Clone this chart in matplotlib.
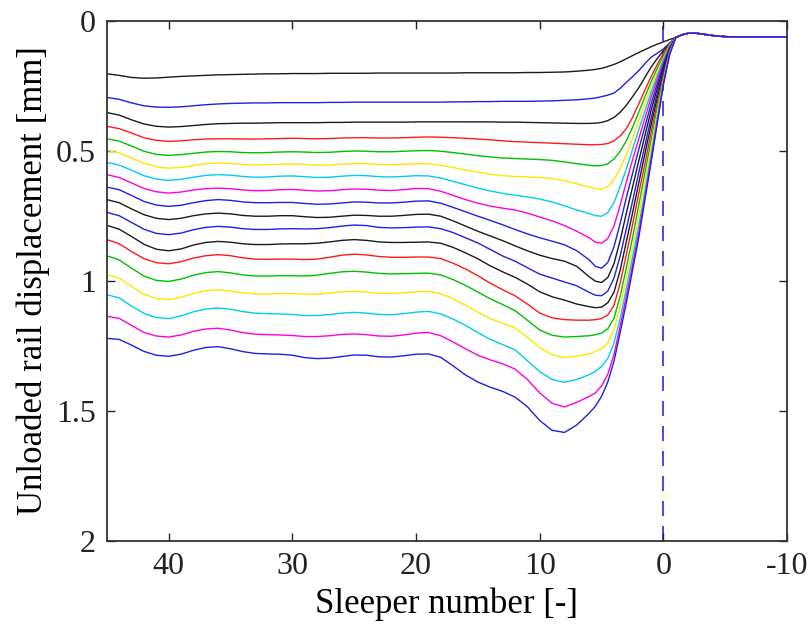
import matplotlib
matplotlib.use('Agg')
import matplotlib.pyplot as plt

# sleeper positions (shared by every curve)
x_main = [45, 44, 43, 42, 41, 40, 39, 38, 37, 36, 35, 34, 33, 32, 31, 30, 29, 28, 27, 26,
          25, 24, 23, 22, 21, 20, 19, 18, 17, 16, 15, 14, 13, 12, 11, 10, 9, 8, 7]
x_rise = [6, 5.5, 5, 4.5, 4, 3.5, 3, 2.5, 2, 1.5, 1, 0.5, 0, -0.5]
x_tail = [-1, -1.5, -2, -2.5, -3, -4, -5, -6, -10]
# every curve ends on the same values past the loaded sleeper
tail = [0.064, 0.054, 0.048, 0.047, 0.050, 0.057, 0.061, 0.062, 0.062]

# unloaded rail displacement [mm], values on x_main then x_rise
u01 = [0.204, 0.210, 0.218, 0.221, 0.220, 0.217, 0.214, 0.212, 0.210, 0.208,
       0.207, 0.206, 0.205, 0.204, 0.204, 0.203, 0.203, 0.203, 0.202, 0.202,
       0.202, 0.202, 0.201, 0.201, 0.201, 0.201, 0.201, 0.201, 0.201, 0.200,
       0.200, 0.200, 0.200, 0.200, 0.199, 0.199, 0.198, 0.197, 0.194,
       0.190, 0.187, 0.183, 0.176, 0.168, 0.158, 0.146, 0.134, 0.122, 0.111, 0.100, 0.090, 0.081, 0.072]
u02 = [0.295, 0.302, 0.316, 0.327, 0.332, 0.333, 0.331, 0.327, 0.323, 0.320,
       0.318, 0.317, 0.316, 0.316, 0.315, 0.315, 0.315, 0.315, 0.314, 0.314,
       0.313, 0.313, 0.313, 0.313, 0.313, 0.313, 0.313, 0.313, 0.312, 0.312,
       0.311, 0.311, 0.310, 0.310, 0.310, 0.309, 0.308, 0.306, 0.304,
       0.300, 0.297, 0.292, 0.286, 0.278, 0.260, 0.237, 0.215, 0.192, 0.165, 0.140, 0.125, 0.108, 0.086]
u03 = [0.353, 0.363, 0.381, 0.397, 0.406, 0.409, 0.407, 0.403, 0.399, 0.396,
       0.395, 0.394, 0.394, 0.393, 0.392, 0.392, 0.392, 0.392, 0.391, 0.391,
       0.390, 0.390, 0.390, 0.390, 0.390, 0.389, 0.389, 0.389, 0.389, 0.389,
       0.389, 0.389, 0.390, 0.390, 0.391, 0.392, 0.393, 0.394, 0.395,
       0.395, 0.394, 0.391, 0.384, 0.372, 0.352, 0.325, 0.292, 0.258, 0.218, 0.178, 0.145, 0.115, 0.088]
u04 = [0.406, 0.415, 0.432, 0.450, 0.460, 0.464, 0.462, 0.458, 0.455, 0.454,
       0.454, 0.455, 0.455, 0.454, 0.453, 0.452, 0.453, 0.454, 0.453, 0.451,
       0.450, 0.450, 0.451, 0.451, 0.450, 0.448, 0.447, 0.448, 0.450, 0.452,
       0.455, 0.458, 0.462, 0.465, 0.467, 0.469, 0.471, 0.473, 0.475,
       0.477, 0.477, 0.476, 0.472, 0.462, 0.443, 0.415, 0.372, 0.320, 0.267, 0.215, 0.168, 0.125, 0.090]
u05 = [0.454, 0.463, 0.482, 0.502, 0.514, 0.518, 0.515, 0.510, 0.505, 0.503,
       0.504, 0.507, 0.508, 0.507, 0.505, 0.504, 0.505, 0.507, 0.506, 0.503,
       0.501, 0.502, 0.504, 0.504, 0.502, 0.500, 0.499, 0.502, 0.507, 0.513,
       0.519, 0.524, 0.528, 0.530, 0.532, 0.534, 0.537, 0.543, 0.550,
       0.556, 0.558, 0.557, 0.550, 0.532, 0.502, 0.462, 0.410, 0.352, 0.292, 0.235, 0.183, 0.135, 0.092]
u06 = [0.499, 0.508, 0.528, 0.548, 0.562, 0.567, 0.564, 0.557, 0.550, 0.547,
       0.549, 0.553, 0.555, 0.554, 0.552, 0.551, 0.553, 0.556, 0.555, 0.552,
       0.549, 0.550, 0.553, 0.554, 0.552, 0.550, 0.550, 0.556, 0.565, 0.574,
       0.582, 0.590, 0.596, 0.599, 0.601, 0.603, 0.607, 0.615, 0.627,
       0.640, 0.646, 0.648, 0.638, 0.612, 0.568, 0.515, 0.452, 0.385, 0.320, 0.255, 0.197, 0.145, 0.095]
u07 = [0.545, 0.555, 0.575, 0.596, 0.609, 0.614, 0.610, 0.602, 0.595, 0.592,
       0.594, 0.599, 0.602, 0.601, 0.598, 0.597, 0.600, 0.603, 0.602, 0.598,
       0.595, 0.596, 0.600, 0.601, 0.599, 0.596, 0.597, 0.605, 0.618, 0.631,
       0.644, 0.655, 0.664, 0.671, 0.678, 0.686, 0.697, 0.712, 0.728,
       0.742, 0.750, 0.752, 0.738, 0.700, 0.638, 0.570, 0.495, 0.420, 0.347, 0.275, 0.210, 0.150, 0.097]
u08 = [0.592, 0.603, 0.624, 0.645, 0.658, 0.663, 0.659, 0.651, 0.646, 0.644,
       0.646, 0.651, 0.654, 0.653, 0.650, 0.649, 0.652, 0.655, 0.654, 0.650,
       0.647, 0.648, 0.652, 0.653, 0.650, 0.645, 0.646, 0.656, 0.672, 0.688,
       0.702, 0.713, 0.721, 0.728, 0.740, 0.755, 0.770, 0.788, 0.810,
       0.835, 0.852, 0.856, 0.838, 0.790, 0.710, 0.620, 0.535, 0.455, 0.375, 0.295, 0.225, 0.160, 0.100]
u09 = [0.640, 0.650, 0.672, 0.695, 0.709, 0.714, 0.710, 0.700, 0.692, 0.688,
       0.691, 0.697, 0.700, 0.700, 0.699, 0.699, 0.703, 0.706, 0.705, 0.701,
       0.697, 0.698, 0.701, 0.701, 0.698, 0.694, 0.693, 0.702, 0.718, 0.735,
       0.752, 0.768, 0.785, 0.803, 0.820, 0.835, 0.848, 0.862, 0.885,
       0.920, 0.945, 0.952, 0.930, 0.870, 0.780, 0.680, 0.588, 0.495, 0.408, 0.320, 0.242, 0.170, 0.104]
u10 = [0.688, 0.700, 0.724, 0.746, 0.760, 0.765, 0.760, 0.750, 0.743, 0.740,
       0.743, 0.749, 0.752, 0.752, 0.750, 0.750, 0.754, 0.757, 0.756, 0.752,
       0.748, 0.749, 0.752, 0.752, 0.749, 0.745, 0.744, 0.752, 0.770, 0.790,
       0.810, 0.828, 0.846, 0.866, 0.885, 0.902, 0.915, 0.925, 0.945,
       0.985, 1.002, 1.007, 0.988, 0.935, 0.845, 0.740, 0.640, 0.540, 0.442, 0.345, 0.260, 0.180, 0.107]
u11 = [0.737, 0.750, 0.776, 0.802, 0.818, 0.823, 0.817, 0.804, 0.795, 0.791,
       0.794, 0.800, 0.803, 0.803, 0.801, 0.800, 0.801, 0.800, 0.796, 0.790,
       0.786, 0.788, 0.795, 0.797, 0.796, 0.794, 0.793, 0.800, 0.815, 0.835,
       0.855, 0.880, 0.905, 0.925, 0.950, 0.975, 0.990, 1.005, 1.020,
       1.045, 1.056, 1.058, 1.040, 0.990, 0.905, 0.800, 0.695, 0.585, 0.480, 0.375, 0.280, 0.190, 0.110]
u12 = [0.787, 0.802, 0.830, 0.860, 0.879, 0.885, 0.878, 0.863, 0.853, 0.849,
       0.852, 0.858, 0.861, 0.861, 0.859, 0.858, 0.858, 0.856, 0.851, 0.845,
       0.842, 0.845, 0.851, 0.853, 0.853, 0.852, 0.851, 0.856, 0.872, 0.893,
       0.916, 0.943, 0.966, 0.987, 1.013, 1.043, 1.062, 1.075, 1.090,
       1.100, 1.104, 1.102, 1.085, 1.045, 0.960, 0.850, 0.740, 0.625, 0.512, 0.400, 0.298, 0.200, 0.113]
u13 = [0.842, 0.858, 0.888, 0.915, 0.931, 0.935, 0.927, 0.913, 0.904, 0.900,
       0.904, 0.912, 0.917, 0.918, 0.917, 0.917, 0.919, 0.917, 0.910, 0.902,
       0.898, 0.901, 0.907, 0.910, 0.910, 0.909, 0.909, 0.915, 0.933, 0.955,
       0.981, 1.010, 1.035, 1.058, 1.090, 1.125, 1.143, 1.150, 1.152,
       1.152, 1.150, 1.146, 1.132, 1.095, 1.010, 0.900, 0.785, 0.665, 0.550, 0.430, 0.318, 0.210, 0.117]
u14 = [0.904, 0.920, 0.952, 0.982, 0.999, 1.003, 0.994, 0.979, 0.969, 0.965,
       0.970, 0.978, 0.982, 0.982, 0.981, 0.981, 0.982, 0.979, 0.972, 0.966,
       0.964, 0.967, 0.972, 0.974, 0.973, 0.972, 0.971, 0.978, 0.996, 1.018,
       1.044, 1.070, 1.092, 1.115, 1.152, 1.190, 1.210, 1.217, 1.215,
       1.212, 1.208, 1.202, 1.185, 1.145, 1.060, 0.950, 0.835, 0.710, 0.585, 0.460, 0.335, 0.220, 0.120]
u15 = [0.977, 0.990, 1.022, 1.052, 1.069, 1.073, 1.064, 1.049, 1.039, 1.035,
       1.040, 1.047, 1.051, 1.051, 1.050, 1.050, 1.052, 1.052, 1.048, 1.043,
       1.041, 1.044, 1.049, 1.050, 1.047, 1.043, 1.041, 1.050, 1.070, 1.095,
       1.121, 1.146, 1.164, 1.182, 1.218, 1.258, 1.285, 1.296, 1.290,
       1.282, 1.272, 1.262, 1.240, 1.190, 1.100, 0.990, 0.875, 0.750, 0.620, 0.490, 0.355, 0.230, 0.122]
u16 = [1.054, 1.066, 1.098, 1.126, 1.142, 1.146, 1.136, 1.120, 1.109, 1.105,
       1.110, 1.119, 1.125, 1.127, 1.128, 1.130, 1.134, 1.134, 1.130, 1.125,
       1.122, 1.125, 1.130, 1.131, 1.127, 1.121, 1.118, 1.128, 1.148, 1.172,
       1.200, 1.226, 1.246, 1.266, 1.308, 1.350, 1.380, 1.391, 1.380,
       1.362, 1.349, 1.330, 1.300, 1.240, 1.145, 1.030, 0.910, 0.790, 0.655, 0.515, 0.372, 0.235, 0.125]
u17 = [1.137, 1.145, 1.172, 1.199, 1.213, 1.217, 1.209, 1.195, 1.186, 1.183,
       1.190, 1.200, 1.206, 1.208, 1.209, 1.211, 1.215, 1.215, 1.212, 1.207,
       1.205, 1.208, 1.213, 1.214, 1.209, 1.202, 1.199, 1.212, 1.236, 1.262,
       1.287, 1.305, 1.320, 1.340, 1.380, 1.432, 1.472, 1.486, 1.468,
       1.445, 1.432, 1.405, 1.360, 1.285, 1.175, 1.060, 0.940, 0.815, 0.675, 0.535, 0.385, 0.240, 0.128]
u18 = [1.222, 1.226, 1.248, 1.272, 1.287, 1.291, 1.283, 1.268, 1.257, 1.254,
       1.262, 1.273, 1.280, 1.282, 1.283, 1.287, 1.296, 1.300, 1.298, 1.292,
       1.286, 1.287, 1.293, 1.294, 1.289, 1.283, 1.282, 1.295, 1.328, 1.363,
       1.390, 1.410, 1.426, 1.448, 1.485, 1.538, 1.576, 1.584, 1.555,
       1.510, 1.483, 1.445, 1.390, 1.310, 1.200, 1.085, 0.960, 0.835, 0.690, 0.545, 0.395, 0.245, 0.130]

curves = [u01, u02, u03, u04, u05, u06, u07, u08, u09,
          u10, u11, u12, u13, u14, u15, u16, u17, u18]
# matlab style colour letters, one per curve
line_codes = ['k', 'b', 'k', 'r', 'g', 'y', 'c', 'm', 'b',
              'k', 'b', 'k', 'r', 'g', 'y', 'c', 'm', 'b']
palette = {'k': '#1a1a1a', 'b': '#1f1fe6', 'r': '#ff1a1a', 'g': '#00c000',
           'y': '#ffe600', 'c': '#00ccf0', 'm': '#ff00dd'}

x_ticks = [40, 30, 20, 10, 0, -10]
y_ticks = [0, 0.5, 1, 1.5, 2]
y_ticklabels = ['0', '0.5', '1', '1.5', '2']

plt.rcParams['font.family'] = ['Liberation Serif', 'DejaVu Serif']
plt.rcParams['axes.unicode_minus'] = False

fig = plt.figure(figsize=(8.09, 6.30), dpi=100)
ax = fig.add_axes([0.132, 0.142, 0.841, 0.825])

ax.axvline(0, color='#2a2ae0', lw=1.2, ls=(0, (9, 6)), zorder=1)

x_all = x_main + x_rise + x_tail
for u, code in zip(curves, line_codes):
    ax.plot(x_all, u + tail, color=palette[code], lw=1.0, zorder=2,
            solid_joinstyle='round')

ax.set_xlim(45, -10)
ax.set_ylim(2, 0)
ax.set_xticks(x_ticks)
ax.set_yticks(y_ticks)
ax.set_yticklabels(y_ticklabels)
ax.tick_params(direction='in', length=6, width=1.0, labelsize=23,
               top=True, right=True, colors='#222222', pad=8)
for s in ax.spines.values():
    s.set_linewidth(1.3)
    s.set_color('#333333')

ax.set_xlabel('Sleeper number [-]', fontsize=25, labelpad=5)
ax.set_ylabel('Unloaded rail displacement [mm]', fontsize=25, labelpad=4)

fig.savefig('out.png', dpi=100)
